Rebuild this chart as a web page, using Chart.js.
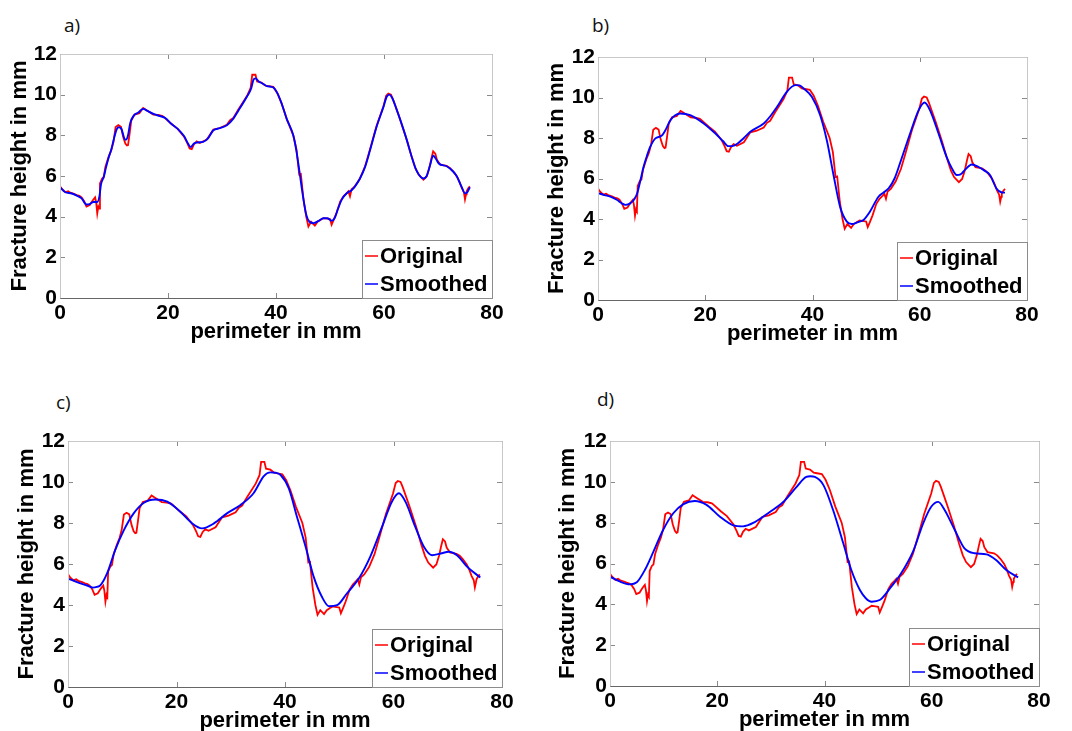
<!DOCTYPE html>
<html>
<head>
<meta charset="utf-8">
<script src="https://cdn.jsdelivr.net/npm/chart.js@4.4.1/dist/chart.umd.min.js"></script>
<style>
  html, body { margin: 0; padding: 0; background: #fff; width: 1072px; height: 731px; overflow: hidden; }
  canvas { position: absolute; }
  .tag { position: absolute; font: 19px "Liberation Sans Narrow", "Open Sans", sans-serif; color: #111; line-height: 1; }
</style>
</head>
<body>
<div class="tag" style="left:64px;top:16px">a)</div>
<div class="tag" style="left:592px;top:16px">b)</div>
<div class="tag" style="left:56px;top:393px">c)</div>
<div class="tag" style="left:597px;top:390px">d)</div>
<script>
const xTicks = [0, 20, 40, 60, 80];
const yTicks = [0, 2, 4, 6, 8, 10, 12];

// original profile (red), same in all four panels
const origX = [0, 0.4, 1.0, 1.5, 1.9, 2.6, 3.1, 3.6, 4.0, 4.5, 4.9, 5.5, 6.05, 6.5, 6.7, 6.9, 7.1, 7.25, 7.4, 7.8,
  8.1, 8.4, 9.0, 9.5, 9.9, 10.3, 10.8, 11.3, 11.7, 12.1, 12.4, 12.6, 12.9, 13.2, 13.8, 14.7, 15.4, 16.1, 17.3, 18.2,
  19.0, 19.4, 20.6, 21.8, 23.0, 23.6, 24.0, 24.4, 24.8, 25.3, 25.9, 27.2, 28.4, 29.6, 30.9, 31.5, 32.1, 33.0, 34.6, 35.3,
  35.6, 36.2, 36.5, 37.3, 38.0, 38.6, 39.5, 40.2, 41.0, 42.0, 43.2, 43.8, 44.0, 44.3, 44.6, 45.1, 45.6, 46.0, 46.5, 47.2,
  47.7, 48.3, 48.8, 49.5, 50.0, 50.3, 50.7, 51.2, 51.9, 52.5, 53.1, 53.4, 53.7, 54.0, 54.6, 55.5, 56.5, 57.4, 58.6, 59.9,
  60.4, 60.8, 61.3, 61.7, 62.3, 63.0, 64.2, 65.1, 65.8, 66.4, 67.3, 67.9, 68.4, 68.8, 69.1, 69.5, 69.8, 70.4, 71.6, 72.2,
  72.8, 73.5, 74.0, 74.4, 74.8, 75.0, 75.2, 75.3, 75.6, 75.9];
const origY = [5.5, 5.35, 5.2, 5.25, 5.18, 5.12, 5.06, 5.02, 4.95, 4.75, 4.5, 4.57, 4.8, 4.95, 4.7, 4.16, 4.49, 4.4, 5.63, 5.88,
  5.95, 6.45, 6.94, 7.27, 7.67, 8.41, 8.5, 8.42, 7.92, 7.6, 7.5, 7.52, 8.1, 8.73, 9.02, 9.09, 9.34, 9.22, 9.02, 9.0,
  8.95, 8.86, 8.57, 8.32, 7.92, 7.6, 7.35, 7.32, 7.55, 7.7, 7.62, 7.79, 8.28, 8.36, 8.52, 8.75, 8.85, 9.26, 9.92, 10.33,
  10.98, 10.98, 10.65, 10.6, 10.45, 10.42, 10.38, 10.1, 9.6, 8.8, 8.0, 7.3, 6.8, 6.07, 6.1, 4.84, 4.0, 3.52, 3.75, 3.56,
  3.75, 3.85, 3.93, 3.9, 3.88, 3.6, 3.85, 4.18, 4.75, 5.0, 5.16, 5.25, 5.0, 5.35, 5.49, 5.85, 6.48, 7.3, 8.44, 9.43,
  9.95, 10.05, 10.0, 9.75, 9.3, 8.77, 7.79, 6.97, 6.4, 6.07, 5.82, 5.98, 6.4, 6.89, 7.21, 7.1, 6.8, 6.56, 6.5, 6.4,
  6.23, 5.98, 5.7, 5.41, 5.2, 4.85, 5.1, 5.25, 5.4, 5.49];

// smoothed profiles (blue), one per panel
const smoothAX = [0, 1.0, 2.0, 3.0, 4.0, 4.9, 5.5, 6.2, 6.9, 7.3, 7.6, 8.1, 8.5, 9.0, 9.5, 10.0, 10.5, 10.9, 11.4, 11.9,
  12.2, 12.6, 13.0, 13.6, 14.5, 15.4, 16.2, 17.3, 18.5, 19.5, 20.6, 21.8, 23.0, 23.7, 24.2, 24.8, 25.5, 26.5, 27.4, 28.4,
  29.6, 30.9, 32.1, 33.0, 34.6, 35.4, 35.8, 36.2, 36.8, 37.5, 38.3, 39.5, 40.2, 41.0, 42.0, 43.2, 43.8, 44.3, 45.0, 45.6,
  46.2, 47.0, 47.8, 48.8, 49.5, 50.3, 50.9, 51.5, 52.2, 53.1, 54.0, 54.6, 55.5, 56.5, 57.4, 58.6, 59.9, 60.5, 61.0, 61.5,
  62.3, 63.0, 64.2, 65.1, 65.8, 66.5, 67.3, 67.9, 68.5, 69.1, 69.6, 70.2, 71.6, 72.8, 73.5, 74.4, 75.0, 75.4, 75.9];
const smoothAY = [5.45, 5.2, 5.15, 5.05, 4.9, 4.6, 4.62, 4.72, 4.72, 5.0, 5.6, 5.95, 6.4, 6.9, 7.3, 7.85, 8.3, 8.4, 8.3, 7.85,
  7.78, 8.0, 8.6, 8.95, 9.12, 9.3, 9.2, 9.05, 8.95, 8.85, 8.57, 8.32, 7.95, 7.6, 7.42, 7.6, 7.65, 7.68, 7.85, 8.25,
  8.35, 8.5, 8.82, 9.2, 9.9, 10.3, 10.72, 10.8, 10.65, 10.55, 10.42, 10.35, 10.1, 9.6, 8.8, 8.0, 7.2, 6.3, 5.0, 4.1,
  3.75, 3.68, 3.78, 3.92, 3.92, 3.8, 3.95, 4.4, 4.85, 5.15, 5.3, 5.48, 5.85, 6.45, 7.25, 8.4, 9.4, 9.9, 10.0, 9.85,
  9.3, 8.77, 7.79, 6.97, 6.4, 6.05, 5.88, 6.0, 6.5, 7.0, 6.85, 6.6, 6.48, 6.22, 5.98, 5.45, 5.15, 5.2, 5.45];

const smoothBX = [0, 1.2, 2.3, 3.5, 4.4, 5.1, 6.0, 6.7, 7.3, 7.9, 8.5, 9.1, 9.75, 10.7, 11.9, 12.7, 13.5, 14.4, 15.3, 17.2,
  19.7, 21.9, 23.3, 24.3, 25.0, 25.9, 27.2, 28.4, 30.9, 32.2, 33.4, 35.2, 36.8, 37.6, 38.3, 39.9, 41.4, 42.7, 43.9, 45.2,
  46.4, 47.3, 48.5, 49.5, 50.7, 52.3, 53.2, 54.2, 55.3, 56.3, 58.2, 59.8, 60.9, 61.9, 63.5, 65.0, 66.0, 66.9, 67.6, 68.5,
  69.7, 70.9, 72.0, 73.1, 74.3, 75.2, 75.9];
const smoothBY = [5.28, 5.18, 5.1, 4.95, 4.78, 4.7, 4.77, 4.95, 5.26, 5.9, 6.58, 7.1, 7.57, 7.98, 8.12, 8.45, 8.88, 9.12, 9.21, 9.13,
  8.72, 8.22, 7.85, 7.6, 7.6, 7.7, 8.0, 8.31, 8.72, 9.1, 9.54, 10.28, 10.61, 10.6, 10.46, 10.03, 9.15, 7.85, 6.2, 4.55,
  3.87, 3.75, 3.85, 3.95, 4.36, 5.1, 5.3, 5.51, 6.0, 6.74, 8.22, 9.38, 9.75, 9.38, 8.22, 7.07, 6.5, 6.17, 6.2, 6.45,
  6.69, 6.58, 6.4, 6.17, 5.51, 5.32, 5.3];

const smoothCX = [0, 2.3, 3.5, 4.6, 5.3, 6.0, 7.2, 8.7, 10.3, 12.1, 14.0, 16.1, 18.3, 20.7, 22.9, 24.7, 26.9, 29.3, 31.8, 34.2,
  36.1, 37.3, 38.3, 39.2, 40.7, 42.2, 43.8, 45.3, 46.8, 48.1, 49.6, 51.4, 53.6, 55.7, 57.9, 59.7, 61.0, 62.2, 64.0, 65.6,
  67.1, 68.7, 70.2, 71.7, 73.6, 76.0];
const smoothCY = [5.29, 5.05, 4.95, 4.85, 4.88, 4.97, 5.54, 6.68, 7.65, 8.47, 8.99, 9.15, 9.04, 8.55, 7.98, 7.74, 7.98, 8.47, 8.88, 9.45,
  10.29, 10.47, 10.45, 10.34, 9.69, 8.31, 6.84, 5.37, 4.4, 3.94, 3.99, 4.56, 5.29, 6.35, 7.82, 9.04, 9.45, 9.04, 7.82, 6.84,
  6.43, 6.51, 6.6, 6.43, 5.86, 5.34];

const smoothDX = [0, 1.9, 3.7, 5.0, 6.5, 8.1, 9.9, 11.8, 13.7, 15.8, 18.0, 20.5, 23.0, 24.8, 27.0, 29.8, 32.3, 34.8, 36.6, 37.4,
  38.2, 39.8, 41.6, 43.5, 45.0, 46.6, 47.7, 48.8, 50.3, 52.2, 54.3, 56.5, 58.4, 59.9, 61.2, 62.4, 64.3, 66.1, 68.0, 70.2,
  72.0, 73.9, 76.1];
const smoothDY = [5.36, 5.11, 4.98, 5.08, 5.68, 6.58, 7.64, 8.46, 8.91, 9.06, 8.87, 8.29, 7.87, 7.82, 8.03, 8.52, 9.01, 9.75, 10.24, 10.27,
  10.24, 9.84, 8.62, 6.99, 5.68, 4.7, 4.3, 4.13, 4.21, 4.78, 5.52, 6.58, 7.97, 8.78, 9.02, 8.62, 7.64, 6.74, 6.5, 6.45,
  6.17, 5.68, 5.32];

const W = 536, H = 380;
const FONT = '"Liberation Sans", Arial, sans-serif';

// where each panel sits and where its plot box is (canvas coordinates)
const panels = [
  { left: 0, top: 0, area: { l: 60, t: 54, r: 492, b: 298 }, yTitleX: 20, sx: smoothAX, sy: smoothAY },
  { left: 536, top: 0, area: { l: 62, t: 57, r: 491, b: 300 }, yTitleX: 21, sx: smoothBX, sy: smoothBY },
  { left: 0, top: 365, area: { l: 68, t: 76, r: 502, b: 322 }, yTitleX: 27, sx: smoothCX, sy: smoothCY },
  { left: 536, top: 365, area: { l: 74, t: 76, r: 503, b: 321 }, yTitleX: 32, sx: smoothDX, sy: smoothDY },
];

const toPts = (xs, ys) => xs.map((x, i) => ({ x: x, y: ys[i] }));

// matlab style box with inward ticks
const framePlugin = {
  id: 'frame',
  afterDatasetsDraw(chart) {
    const { ctx, chartArea: { left, top, right, bottom }, scales: { x, y } } = chart;
    ctx.save();
    ctx.lineWidth = 1;
    ctx.strokeStyle = '#8a8a8a';
    ctx.beginPath();
    xTicks.forEach(v => {
      const px = Math.round(x.getPixelForValue(v)) + 0.5;
      ctx.moveTo(px, bottom); ctx.lineTo(px, bottom - 5);
      ctx.moveTo(px, top); ctx.lineTo(px, top + 5);
    });
    yTicks.forEach(v => {
      const py = Math.round(y.getPixelForValue(v)) + 0.5;
      ctx.moveTo(left, py); ctx.lineTo(left + 5, py);
      ctx.moveTo(right, py); ctx.lineTo(right - 5, py);
    });
    ctx.stroke();
    const l = Math.round(left) + 0.5, r = Math.round(right) + 0.5;
    const t = Math.round(top) + 0.5, b = Math.round(bottom) + 0.5;
    ctx.strokeStyle = '#c8c8c8';
    ctx.beginPath();
    ctx.moveTo(l, b); ctx.lineTo(l, t); ctx.lineTo(r, t); ctx.lineTo(r, b);
    ctx.stroke();
    ctx.strokeStyle = '#666';
    ctx.beginPath();
    ctx.moveTo(l, b); ctx.lineTo(r, b);
    ctx.stroke();
    ctx.restore();
  }
};

// legend box in the lower right corner of the plot
const boxLegend = {
  id: 'boxLegend',
  afterDraw(chart) {
    const { ctx, chartArea: { right, bottom } } = chart;
    const sets = chart.data.datasets;
    ctx.save();
    ctx.font = 'bold 22px ' + FONT;
    const tw = Math.max(...sets.map(d => ctx.measureText(d.label).width));
    const w = Math.round(3 + 13 + 2 + tw + 4), h = 58;
    const x0 = Math.round(right) - w, y0 = Math.round(bottom) - h;
    ctx.fillStyle = '#fff';
    ctx.fillRect(x0, y0, w, h);
    ctx.strokeStyle = '#8c8c8c';
    ctx.lineWidth = 1;
    ctx.strokeRect(x0 + 0.5, y0 + 0.5, w, h);
    sets.forEach((d, i) => {
      const cy = Math.round(bottom) - 42 + i * 28;
      ctx.strokeStyle = d.borderColor;
      ctx.lineWidth = 1.5;
      ctx.beginPath();
      ctx.moveTo(x0 + 3, cy); ctx.lineTo(x0 + 16, cy);
      ctx.stroke();
      ctx.fillStyle = '#000';
      ctx.textBaseline = 'middle';
      ctx.fillText(d.label, x0 + 18, cy + 1);
    });
    ctx.restore();
  }
};

panels.forEach(p => {
  const cv = document.createElement('canvas');
  cv.width = W;
  cv.height = H;
  cv.style.left = p.left + 'px';
  cv.style.top = p.top + 'px';
  document.body.appendChild(cv);

  new Chart(cv, {
    type: 'line',
    data: {
      datasets: [
        { label: 'Original', data: toPts(origX, origY), borderColor: '#ff0000', borderWidth: 1.8,
          pointRadius: 0, tension: 0, order: 1 },
        { label: 'Smoothed', data: toPts(p.sx, p.sy), borderColor: '#0000ff', borderWidth: 1.9,
          pointRadius: 0, cubicInterpolationMode: 'monotone', order: 0 },
      ],
    },
    options: {
      responsive: false,
      animation: false,
      events: [],
      layout: { padding: { top: p.area.t, right: W - p.area.r, left: 0, bottom: 0 } },
      plugins: { legend: { display: false }, tooltip: { enabled: false } },
      scales: {
        x: {
          type: 'linear', min: 0, max: 80,
          afterBuildTicks: s => { s.ticks = xTicks.map(v => ({ value: v })); },
          afterFit: s => { s.height = H - p.area.b; },
          grid: { display: false, drawTicks: false },
          border: { display: false },
          ticks: { padding: 3, color: '#000', font: { family: FONT, size: 21, weight: 'bold' } },
          title: {
            display: true, text: 'perimeter in mm', color: '#000',
            font: { family: FONT, size: 22, weight: 'bold', lineHeight: 1.2 },
            padding: { top: 0, bottom: H - p.area.b - 13.2 - 34 },
          },
        },
        y: {
          type: 'linear', min: 0, max: 12,
          afterBuildTicks: s => { s.ticks = yTicks.map(v => ({ value: v })); },
          afterFit: s => { s.width = p.area.l; },
          grid: { display: false, drawTicks: false },
          border: { display: false },
          ticks: { padding: 3, color: '#000', font: { family: FONT, size: 21, weight: 'bold' } },
          title: {
            display: true, text: 'Fracture height in mm', color: '#000',
            font: { family: FONT, size: 22, weight: 'bold', lineHeight: 1.2 },
            padding: { top: p.yTitleX - 13.2, bottom: 0 },
          },
        },
      },
    },
    plugins: [framePlugin, boxLegend],
  });
});
</script>
</body>
</html>
